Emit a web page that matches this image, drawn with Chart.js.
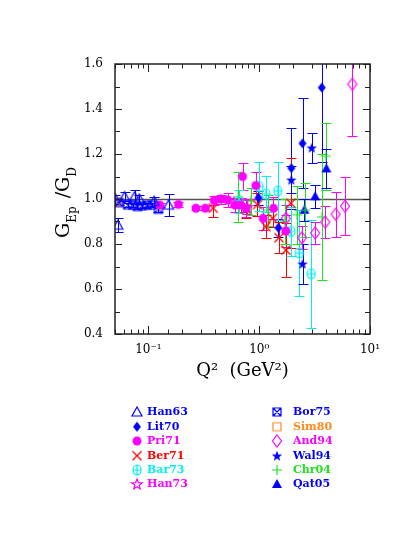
<!DOCTYPE html>
<html>
<head>
<meta charset="utf-8">
<script src="https://cdn.jsdelivr.net/npm/chart.js@4.4.1/dist/chart.umd.min.js"></script>
<style>
  html, body { margin: 0; padding: 0; background: #fff; }
</style>
</head>
<body>
<canvas id="gepChart" width="414" height="536"></canvas>
<script>
// ---- data (Q^2 in GeV^2, ratio, error) ----
const han63Q2 = [0.0504, 0.053, 0.061, 0.075, 0.083, 0.113, 0.152];
const han63Val = [1.00, 0.884, 1.01, 1.01, 1.00, 0.99, 0.973];
const han63Err = [0.02, 0.03, 0.02, 0.03, 0.02, 0.02, 0.05];

const lit70Q2 = [0.985, 1.49, 1.95, 2.46, 3.67];
const lit70Val = [1.005, 0.872, 1.137, 1.247, 1.495];
const lit70Err = [0.03, 0.04, 0.18, 0.20, 0.33];

const pri71Q2 = [0.127, 0.187, 0.269, 0.327, 0.393, 0.452, 0.518, 0.608, 0.684, 0.708, 0.759, 0.933, 1.087, 1.345, 1.74];
const pri71Val = [0.973, 0.976, 0.959, 0.959, 0.993, 1.00, 0.996, 0.973, 0.973, 1.10, 0.959, 1.06, 0.914, 0.959, 0.858];
const pri71Err = [0.01, 0.01, 0.01, 0.01, 0.02, 0.02, 0.03, 0.03, 0.03, 0.06, 0.04, 0.06, 0.05, 0.05, 0.07];

const ber71Q2 = [0.385, 0.76, 0.965, 1.15, 1.32, 1.51, 1.74, 1.93];
const ber71Val = [0.959, 0.955, 0.975, 0.877, 0.914, 0.828, 0.773, 0.981];
const ber71Err = [0.04, 0.04, 0.05, 0.05, 0.04, 0.07, 0.12, 0.20];

const bar73Q2 = [0.66, 1.0, 1.15, 1.47, 1.93, 2.3, 2.95];
const bar73Val = [0.99, 1.055, 1.022, 1.036, 0.856, 0.76, 0.668];
const bar73Err = [0.05, 0.11, 0.08, 0.13, 0.11, 0.19, 0.24];

const han73Q2 = [0.59, 0.78];
const han73Val = [0.985, 0.965];
const han73Err = [0.02, 0.03];

const bor75Q2 = [0.054, 0.065, 0.072, 0.0797, 0.088, 0.098, 0.108, 0.123];
const bor75Val = [0.984, 0.973, 0.973, 0.966, 0.969, 0.973, 0.973, 0.954];
const bor75Err = [0.01, 0.01, 0.01, 0.01, 0.01, 0.01, 0.01, 0.01];

const sim80Q2 = [0.054];
const sim80Val = [0.985];
const sim80Err = [0.01];

const and94Q2 = [1.74, 2.43, 3.2, 3.95, 4.9, 5.95, 6.93];
const and94Val = [0.914, 0.828, 0.849, 0.897, 0.932, 0.968, 1.51];
const and94Err = [0.06, 0.05, 0.05, 0.07, 0.10, 0.13, 0.23];

const wal94Q2 = [1.95, 2.46, 2.98];
const wal94Val = [1.085, 0.712, 1.228];
const wal94Err = [0.06, 0.09, 0.067];

const chr04Q2 = [0.65, 0.84, 1.2, 1.7, 2.2, 2.6, 3.7, 4.0];
const chr04Val = [1.01, 0.99, 0.95, 0.90, 0.93, 0.95, 0.92, 1.19];
const chr04Err = [0.11, 0.06, 0.07, 0.10, 0.13, 0.12, 0.28, 0.15];

const qat05Q2 = [2.56, 3.2, 4.04];
const qat05Val = [0.952, 1.012, 1.136];
const qat05Err = [0.05, 0.05, 0.085];

// tick labels
const xTickValues = [0.1, 1, 10];
const xTickLabels = ['10\u207B\u00B9', '10\u2070', '10\u00B9'];
const yTickLabels = ['0.4', '0.6', '0.8', '1.0', '1.2', '1.4', '1.6'];

const FONT = '"DejaVu Serif", "Liberation Serif", serif';

// ---- marker images ----
function makeMarker(kind, color) {
  const c = document.createElement('canvas');
  c.width = 18; c.height = 18;
  const g = c.getContext('2d');
  const m = 9;
  g.strokeStyle = color; g.fillStyle = color; g.lineWidth = 1.2;
  g.beginPath();
  if (kind === 'triOpen' || kind === 'triFill') {
    g.moveTo(m, m - 5); g.lineTo(m + 5, m + 4); g.lineTo(m - 5, m + 4); g.closePath();
    kind === 'triFill' ? g.fill() : g.stroke();
  } else if (kind === 'diamondFill') {
    g.moveTo(m, m - 5); g.lineTo(m + 4, m); g.lineTo(m, m + 5); g.lineTo(m - 4, m); g.closePath(); g.fill();
  } else if (kind === 'diamondOpen') {
    g.moveTo(m, m - 6); g.lineTo(m + 4.5, m); g.lineTo(m, m + 6); g.lineTo(m - 4.5, m); g.closePath(); g.stroke();
  } else if (kind === 'circleFill') {
    g.arc(m, m, 4.5, 0, Math.PI * 2); g.fill();
  } else if (kind === 'cross') {
    g.lineWidth = 1.3;
    g.moveTo(m - 4.5, m - 4.5); g.lineTo(m + 4.5, m + 4.5);
    g.moveTo(m + 4.5, m - 4.5); g.lineTo(m - 4.5, m + 4.5); g.stroke();
  } else if (kind === 'circleCross') {
    g.ellipse(m, m, 4, 5, 0, 0, Math.PI * 2);
    g.moveTo(m, m - 5); g.lineTo(m, m + 5);
    g.moveTo(m - 4, m); g.lineTo(m + 4, m); g.stroke();
  } else if (kind === 'starOpen' || kind === 'starFill') {
    for (let i = 0; i < 10; i++) {
      const r = i % 2 === 0 ? 5.5 : 2.3;
      const a = -Math.PI / 2 + i * Math.PI / 5;
      const px = m + r * Math.cos(a), py = m + 0.5 + r * Math.sin(a);
      i === 0 ? g.moveTo(px, py) : g.lineTo(px, py);
    }
    g.closePath();
    kind === 'starFill' ? g.fill() : g.stroke();
  } else if (kind === 'squareCross') {
    g.rect(m - 4, m - 4, 8, 8);
    g.moveTo(m - 4, m - 4); g.lineTo(m + 4, m + 4);
    g.moveTo(m + 4, m - 4); g.lineTo(m - 4, m + 4); g.stroke();
  } else if (kind === 'squareOpen') {
    g.rect(m - 4, m - 4, 8, 8); g.stroke();
  } else if (kind === 'plus') {
    g.moveTo(m - 5, m); g.lineTo(m + 5, m);
    g.moveTo(m, m - 5); g.lineTo(m, m + 5); g.stroke();
  }
  return c;
}

const BLUE = '#0000ff', MAG = '#ff00ff', RED = '#ff0000', CYAN = '#00f0f0', GREEN = '#20e020', ORANGE = '#ff8a1c';

function makeSet(label, q2, val, err, kind, color) {
  return {
    label: label,
    data: q2.map((q, i) => ({ x: q, y: val[i], err: err[i] })),
    borderColor: color,
    backgroundColor: color,
    pointStyle: makeMarker(kind, color),
    pointRadius: 5,
    pointHoverRadius: 5
  };
}

const datasets = [
  makeSet('Han63', han63Q2, han63Val, han63Err, 'triOpen', BLUE),
  makeSet('Lit70', lit70Q2, lit70Val, lit70Err, 'diamondFill', BLUE),
  makeSet('Pri71', pri71Q2, pri71Val, pri71Err, 'circleFill', MAG),
  makeSet('Ber71', ber71Q2, ber71Val, ber71Err, 'cross', RED),
  makeSet('Bar73', bar73Q2, bar73Val, bar73Err, 'circleCross', CYAN),
  makeSet('Han73', han73Q2, han73Val, han73Err, 'starOpen', MAG),
  makeSet('Bor75', bor75Q2, bor75Val, bor75Err, 'squareCross', BLUE),
  makeSet('Sim80', sim80Q2, sim80Val, sim80Err, 'squareOpen', ORANGE),
  makeSet('And94', and94Q2, and94Val, and94Err, 'diamondOpen', MAG),
  makeSet('Wal94', wal94Q2, wal94Val, wal94Err, 'starFill', BLUE),
  makeSet('Chr04', chr04Q2, chr04Val, chr04Err, 'plus', GREEN),
  makeSet('Qat05', qat05Q2, qat05Val, qat05Err, 'triFill', BLUE)
];

// error bars, unity line, frame with inward ticks, titles, legend
const decorations = {
  id: 'decorations',
  beforeDatasetsDraw(chart) {
    const { ctx, chartArea: a, scales: { x, y } } = chart;
    ctx.save();
    ctx.beginPath();
    ctx.rect(a.left, a.top, a.right - a.left, a.bottom - a.top);
    ctx.clip();
    const y1 = Math.round(y.getPixelForValue(1)) + 0.5;
    ctx.strokeStyle = '#555';
    ctx.lineWidth = 1.5;
    ctx.beginPath(); ctx.moveTo(a.left, y1); ctx.lineTo(a.right, y1); ctx.stroke();

    ctx.lineWidth = 1;
    chart.data.datasets.forEach(ds => {
      ctx.strokeStyle = ds.borderColor;
      ds.data.forEach(p => {
        const px = Math.round(x.getPixelForValue(p.x)) + 0.5;
        const top = Math.round(y.getPixelForValue(p.y + p.err)) + 0.5;
        const bot = Math.round(y.getPixelForValue(p.y - p.err)) + 0.5;
        ctx.beginPath();
        ctx.moveTo(px, top); ctx.lineTo(px, bot);
        ctx.moveTo(px - 5, top); ctx.lineTo(px + 5, top);
        ctx.moveTo(px - 5, bot); ctx.lineTo(px + 5, bot);
        ctx.stroke();
      });
    });
    ctx.restore();
  },
  afterDraw(chart) {
    const { ctx, chartArea: a, scales: { x, y } } = chart;
    ctx.save();
    ctx.strokeStyle = '#222';
    ctx.lineWidth = 1.5;
    ctx.strokeRect(a.left, a.top, a.right - a.left, a.bottom - a.top);

    ctx.lineWidth = 1;
    ctx.beginPath();
    x.ticks.forEach(t => {
      const e = Math.log10(t.value);
      const major = Math.abs(e - Math.round(e)) < 1e-6;
      const len = major ? 8 : 4.5;
      const px = Math.round(x.getPixelForValue(t.value)) + 0.5;
      ctx.moveTo(px, a.bottom); ctx.lineTo(px, a.bottom - len);
      ctx.moveTo(px, a.top); ctx.lineTo(px, a.top + len);
    });
    y.ticks.forEach(t => {
      const major = Math.round(t.value * 10) % 2 === 0;
      const len = major ? 7 : 5;
      const py = Math.round(y.getPixelForValue(t.value)) + 0.5;
      ctx.moveTo(a.left, py); ctx.lineTo(a.left + len, py);
      ctx.moveTo(a.right, py); ctx.lineTo(a.right - len, py);
    });
    ctx.stroke();

    // x title
    ctx.fillStyle = '#000';
    ctx.font = '18px ' + FONT;
    ctx.textAlign = 'center';
    ctx.textBaseline = 'alphabetic';
    ctx.fillText('Q\u00B2  (GeV\u00B2)', (a.left + a.right) / 2, 376);

    // y title, rotated, with subscripts
    ctx.save();
    ctx.translate(69, 238);
    ctx.rotate(-Math.PI / 2);
    ctx.textAlign = 'left';
    let cx = 0;
    const big = '19px ' + FONT, small = '12px ' + FONT;
    const parts = [['G', big, 0], ['Ep', small, 7], [' /', big, 0], ['G', big, 0], ['D', small, 7]];
    parts.forEach(([txt, f, dy]) => {
      ctx.font = f;
      ctx.fillText(txt, cx, dy);
      cx += ctx.measureText(txt).width + (dy ? 2 : 0);
    });
    ctx.restore();

    // legend in two columns
    const rowY = [412, 426.7, 441, 455.7, 470, 484];
    ctx.font = 'bold 11px ' + FONT;
    ctx.textAlign = 'left';
    ctx.textBaseline = 'middle';
    chart.data.datasets.forEach((ds, i) => {
      const col = i < 6 ? 0 : 1;
      const yy = rowY[i % 6];
      const mx = col === 0 ? 137 : 277;
      const tx = col === 0 ? 147 : 293;
      const img = ds.pointStyle;
      ctx.drawImage(img, mx - img.width / 2, yy - img.height / 2);
      ctx.fillStyle = ds.borderColor;
      ctx.fillText(ds.label, tx, yy + 0.5);
    });
    ctx.restore();
  }
};

const ctx = document.getElementById('gepChart').getContext('2d');
new Chart(ctx, {
  type: 'scatter',
  data: { datasets: datasets },
  options: {
    responsive: false,
    animation: false,
    layout: { padding: { left: 75, top: 64, right: 44, bottom: 172 } },
    plugins: {
      legend: { display: false },
      tooltip: { enabled: false }
    },
    scales: {
      x: {
        type: 'logarithmic',
        min: 0.05,
        max: 10,
        grid: { display: false, drawTicks: false },
        border: { display: false },
        ticks: {
          autoSkip: false,
          maxRotation: 0,
          padding: 9,
          color: '#000',
          font: { family: FONT, size: 12 },
          callback: function (v) {
            const k = xTickValues.findIndex(t => Math.abs(Math.log10(v) - Math.log10(t)) < 1e-6);
            return k >= 0 ? xTickLabels[k] : '';
          }
        },
        afterFit: function (s) { s.height = 30; }
      },
      y: {
        min: 0.4,
        max: 1.6,
        grid: { display: false, drawTicks: false },
        border: { display: false },
        ticks: {
          stepSize: 0.1,
          autoSkip: false,
          padding: 12,
          color: '#000',
          font: { family: FONT, size: 12 },
          callback: function (v) {
            const s = Number(v).toFixed(1);
            return yTickLabels.includes(s) ? s : '';
          }
        },
        afterFit: function (s) { s.width = 40; }
      }
    }
  },
  plugins: [decorations]
});
</script>
</body>
</html>
